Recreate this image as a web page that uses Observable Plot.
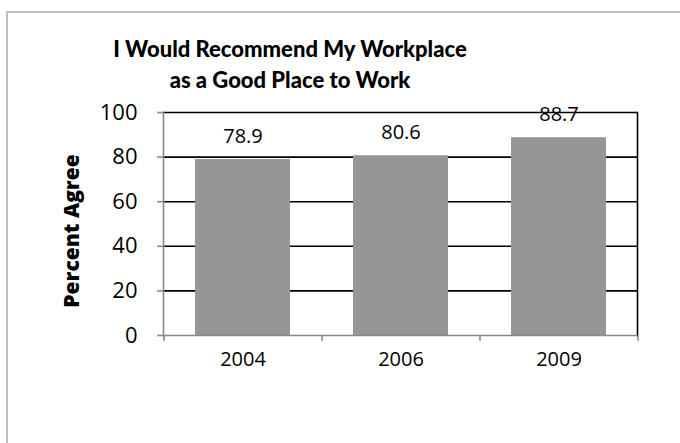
<!DOCTYPE html>
<html>
<head>
<meta charset="utf-8">
<script src="https://cdn.jsdelivr.net/npm/d3@7"></script>
<script src="https://cdn.jsdelivr.net/npm/@observablehq/plot@0.6"></script>
<style>
  html, body { margin: 0; padding: 0; background: #fff; }
  #wrap { position: relative; width: 680px; height: 443px; overflow: hidden; font-family: "Open Sans", sans-serif; }
  #frame { position: absolute; left: 6px; top: 11px; width: 700px; height: 500px; border: 2px solid #bfbfbf; box-sizing: border-box; }
  #title { position: absolute; left: 90px; width: 400px; top: 33px; text-align: center; font-family: Lato, sans-serif; font-weight: 900; font-size: 22px; line-height: 31px; color: #000; }
  #chart { position: absolute; left: 0; top: 0; }
</style>
</head>
<body>
<div id="wrap">
  <div id="frame"></div>
  <div id="chart"></div>
  <div id="title">I Would Recommend My Workplace<br>as a Good Place to Work</div>
</div>
<script>
const years = ["2004", "2006", "2009"];
const values = [78.9, 80.6, 88.7];
const yTicks = [0, 20, 40, 60, 80, 100];
const yLabel = "Percent Agree";

const data = years.map((y, i) => ({year: y, value: values[i]}));

const plot = Plot.plot({
  width: 680,
  height: 443,
  marginLeft: 163,
  marginRight: 43,
  marginTop: 112,
  marginBottom: 108,
  style: {fontFamily: "'Open Sans', sans-serif", background: "transparent", overflow: "visible", color: "#000"},
  x: {domain: years, paddingInner: 0.4, paddingOuter: 0.2, axis: null},
  y: {domain: [0, 100], ticks: yTicks, axis: null},
  marks: [
    Plot.gridY(yTicks.filter(d => d > 0), {stroke: "#000", strokeOpacity: 1, strokeWidth: 1.6}),
    Plot.barY(data, {x: "year", y: "value", fill: "#969696"}),
    Plot.frame({anchor: "left", stroke: "#888", strokeWidth: 1.6}),
    Plot.frame({anchor: "right", stroke: "#000", strokeWidth: 1.6}),
    Plot.ruleY([0], {stroke: "#888", strokeWidth: 1.6}),
    Plot.ruleX(years, {x: d => d, dx: -79, y1: 0, y2: -2.6, stroke: "#888", strokeWidth: 1.6}),
    Plot.ruleX(years.slice(-1), {x: d => d, dx: 79, y1: 0, y2: -2.6, stroke: "#888", strokeWidth: 1.6}),
    Plot.axisY({ticks: yTicks, tickSize: 6, tickPadding: 20, stroke: "#888", strokeWidth: 1.6, strokeOpacity: 1, fontSize: 22, fill: "#000", label: null}),
    Plot.axisX({tickSize: 0, tickPadding: 16, fontSize: 20, fill: "#000", label: null}),
    Plot.text([yLabel], {frameAnchor: "left", textAnchor: "middle", dx: -91, dy: 7, rotate: -90, fontSize: 21, fontWeight: 800, fill: "#000"}),
    Plot.text(data, {x: "year", y: "value", text: d => d.value.toFixed(1), dy: -23, fontSize: 20, fill: "#000"}),
  ]
});

document.getElementById("chart").appendChild(plot);
</script>
</body>
</html>
